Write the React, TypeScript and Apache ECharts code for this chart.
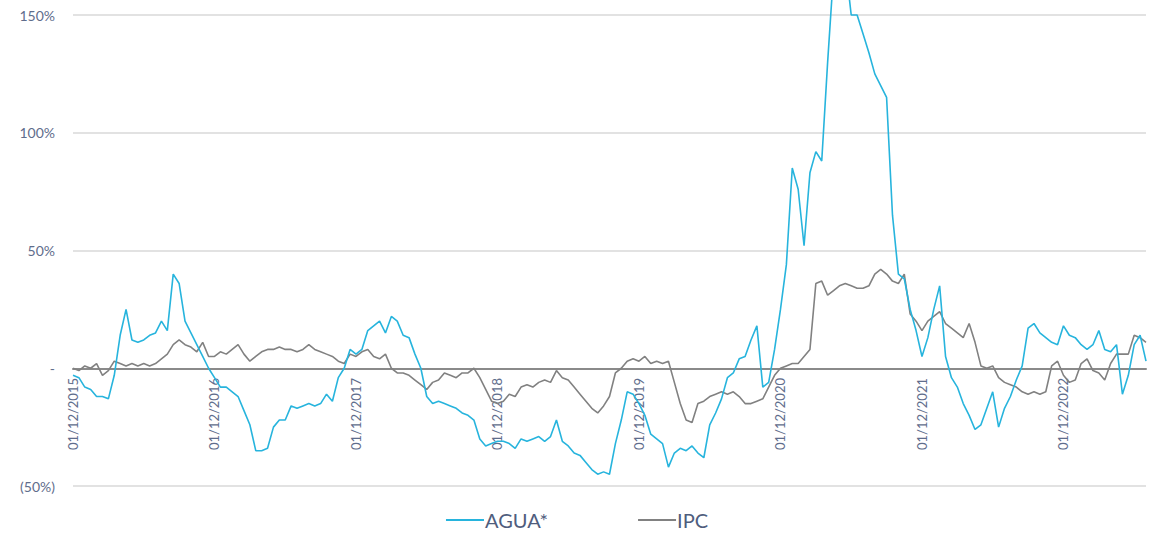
import React, { useEffect, useRef } from "react";
import * as echarts from "echarts";

// Semi-monthly dates from 01/12/2015 to 01/07/2023
const buildDates = (): string[] => {
  const out: string[] = [];
  let y = 2015;
  let m = 12;
  while (true) {
    for (const d of [1, 15]) {
      if (y === 2023 && m === 7 && d === 15) return out;
      out.push(`${String(d).padStart(2, "0")}/${String(m).padStart(2, "0")}/${y}`);
    }
    m += 1;
    if (m > 12) { m = 1; y += 1; }
  }
};
const dates = buildDates();

const agua = [
  -3, -4, -8, -9, -12, -12, -13, -3, 14, 25,
  12, 11, 12, 14, 15, 20, 16, 40, 36, 20,
  15, 10, 5, 0, -4, -8, -8, -10, -12, -18,
  -24, -35, -35, -34, -25, -22, -22, -16, -17, -16,
  -15, -16, -15, -11, -14, -4, 0, 8, 6, 8,
  16, 18, 20, 15, 22, 20, 14, 13, 6, 0,
  -12, -15, -14, -15, -16, -17, -19, -20, -22, -30,
  -33, -32, -31, -31, -32, -34, -30, -31, -30, -29,
  -31, -29, -22, -31, -33, -36, -37, -40, -43, -45,
  -44, -45, -32, -22, -10, -11, -15, -20, -28, -30,
  -32, -42, -36, -34, -35, -33, -36, -38, -24, -19,
  -13, -4, -2, 4, 5, 12, 18, -8, -6, 8,
  25, 44, 85, 76, 52, 83, 92, 88, 130, 168,
  175, 172, 150, 150, 142, 134, 125, 120, 115, 65,
  40, 38, 25, 16, 5, 13, 25, 35, 5, -4,
  -8, -15, -20, -26, -24, -17, -10, -25, -17, -12,
  -5, 1, 17, 19, 15, 13, 11, 10, 18, 14,
  13, 10, 8, 10, 16, 8, 7, 10, -11, -3,
  10, 14, 3,
];

const ipc = [
  0, -1, 1, 0, 2, -3, -1, 3, 2, 1,
  2, 1, 2, 1, 2, 4, 6, 10, 12, 10,
  9, 7, 11, 5, 5, 7, 6, 8, 10, 6,
  3, 5, 7, 8, 8, 9, 8, 8, 7, 8,
  10, 8, 7, 6, 5, 3, 2, 6, 5, 7,
  8, 5, 4, 6, 0, -2, -2, -3, -5, -7,
  -9, -6, -5, -2, -3, -4, -2, -2, 0, -4,
  -9, -14, -15, -14, -11, -12, -8, -7, -8, -6,
  -5, -6, -1, -4, -5, -8, -11, -14, -17, -19,
  -16, -12, -2, 0, 3, 4, 3, 5, 2, 3,
  2, 3, -6, -15, -22, -23, -15, -14, -12, -11,
  -10, -11, -10, -12, -15, -15, -14, -13, -8, -3,
  0, 1, 2, 2, 5, 8, 36, 37, 31, 33,
  35, 36, 35, 34, 34, 35, 40, 42, 40, 37,
  36, 40, 23, 20, 16, 20, 22, 24, 19, 17,
  15, 13, 19, 11, 1, 0, 1, -4, -6, -7,
  -8, -10, -11, -10, -11, -10, 1, 3, -3, -6,
  -5, 2, 4, -1, -2, -5, 2, 6, 6, 6,
  14, 13, 11,
];

const yTicks = [-50, 0, 50, 100, 150];

const FONT = "Lato, 'Open Sans', sans-serif";
const LABEL = "#5f6d8c";

export default function App() {
  const ref = useRef<HTMLDivElement>(null);
  useEffect(() => {
    if (!ref.current) return;
    const chart = echarts.init(ref.current, undefined, { renderer: "svg" });
    chart.setOption({
      animation: false,
      grid: { left: 73, right: 8, top: 15, bottom: 53, containLabel: false, outerBoundsMode: "none" },
      legend: {
        bottom: 4,
        left: "center",
        itemGap: 90,
        icon: "rect",
        itemWidth: 38,
        itemHeight: 2,
        textStyle: { color: "#4f5d7d", fontSize: 20, fontFamily: FONT, padding: [0, 0, 0, -4] },
        data: ["AGUA*", "IPC"],
      },
      xAxis: {
        type: "category",
        data: dates,
        boundaryGap: false,
        axisLine: { onZero: true, lineStyle: { color: "#8a8a8a", width: 2 } },
        axisTick: { show: false },
        axisLabel: {
          rotate: 90,
          color: LABEL,
          fontSize: 13,
          fontFamily: FONT,
          margin: -108,
          interval: (_i: number, v: string) => v.startsWith("01/12/"),
        },
        splitLine: { show: false },
      },
      yAxis: {
        type: "value",
        min: yTicks[0],
        max: yTicks[yTicks.length - 1],
        interval: 50,
        axisLine: { show: false },
        axisTick: { show: false },
        axisLabel: {
          color: LABEL,
          fontSize: 14,
          fontFamily: FONT,
          margin: 18,
          formatter: (v: number) => (v === 0 ? "-" : v < 0 ? `(${-v}%)` : `${v}%`),
        },
        splitLine: { lineStyle: { color: "#e2e2e2", width: 2 } },
      },
      series: [
        {
          name: "AGUA*",
          type: "line",
          data: agua,
          symbol: "none",
          clip: false,
          lineStyle: { color: "#27b4dd", width: 1.6 },
          itemStyle: { color: "#27b4dd" },
          z: 3,
        },
        {
          name: "IPC",
          type: "line",
          data: ipc,
          symbol: "none",
          lineStyle: { color: "#818181", width: 1.6 },
          itemStyle: { color: "#818181" },
          z: 2,
        },
      ],
    });
    return () => chart.dispose();
  }, []);
  return (
    <div
      ref={ref}
      style={{ position: "fixed", left: 0, top: 0, width: 1154, height: 539, background: "#fff" }}
    />
  );
}
